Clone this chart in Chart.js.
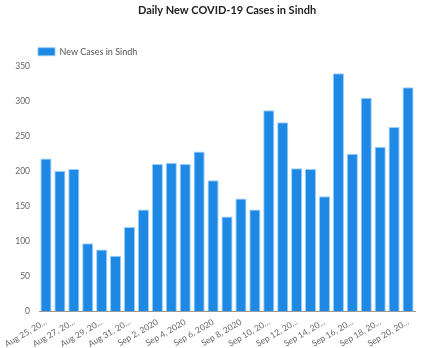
<!DOCTYPE html>
<html>
<head>
<meta charset="utf-8">
<script src="https://cdn.jsdelivr.net/npm/chart.js@4"></script>
<style>
    html, body { margin: 0; padding: 0; background: #fff; }
    #wrap { width: 434px; height: 348px; }
</style>
</head>
<body>
<div id="wrap"><canvas id="sindhChart"></canvas></div>
<script>
// Dates on the x axis (every day, Aug 25 - Sep 20, 2020)
const dates = [
    'Aug 25, 2020', 'Aug 26, 2020', 'Aug 27, 2020', 'Aug 28, 2020', 'Aug 29, 2020',
    'Aug 30, 2020', 'Aug 31, 2020', 'Sep 1, 2020', 'Sep 2, 2020', 'Sep 3, 2020',
    'Sep 4, 2020', 'Sep 5, 2020', 'Sep 6, 2020', 'Sep 7, 2020', 'Sep 8, 2020',
    'Sep 9, 2020', 'Sep 10, 2020', 'Sep 11, 2020', 'Sep 12, 2020', 'Sep 13, 2020',
    'Sep 14, 2020', 'Sep 15, 2020', 'Sep 16, 2020', 'Sep 17, 2020', 'Sep 18, 2020',
    'Sep 19, 2020', 'Sep 20, 2020'
];

// New cases per day
const newCases = [
    218, 200, 203, 97, 88, 79, 120, 145, 210, 212,
    210, 228, 187, 135, 161, 145, 287, 270, 204, 203,
    164, 340, 225, 305, 235, 263, 320
];

const yTicks = [0, 50, 100, 150, 200, 250, 300, 350];

const FONT = 'Lato, "Noto Sans", sans-serif';

// shorten long date labels like the original
function shortLabel(text) {
    return text.length > 11 ? text.slice(0, 10) + '...' : text;
}

// title and legend line up with the plot area, not the canvas edge
const alignToPlot = {
    id: 'alignToPlot',
    afterLayout(chart) {
        const left = chart.chartArea.left;
        if (chart.titleBlock) chart.titleBlock.left = left;
        if (chart.legend) chart.legend.left = left - 7;
    }
};

const ctx = document.getElementById('sindhChart');

new Chart(ctx, {
    type: 'bar',
    data: {
        labels: dates,
        datasets: [{
            label: 'New Cases in Sindh',
            data: newCases,
            backgroundColor: '#1E88E5',
            borderColor: 'rgba(144, 202, 249, 0.9)',
            borderWidth: 1,
            barPercentage: 0.8,
            categoryPercentage: 1
        }]
    },
    options: {
        responsive: true,
        maintainAspectRatio: false,
        animation: false,
        layout: {
            padding: { top: 4, right: 19, left: 0, bottom: 0 }
        },
        plugins: {
            title: {
                display: true,
                text: 'Daily New COVID-19 Cases in Sindh',
                color: '#222',
                font: { family: FONT, size: 11, weight: 'bold' },
                padding: { top: 0, bottom: 24 }
            },
            legend: {
                display: true,
                position: 'top',
                align: 'start',
                labels: {
                    font: { family: FONT, size: 9 },
                    color: '#555',
                    boxWidth: 17,
                    boxHeight: 8,
                    padding: 6
                }
            },
            tooltip: { enabled: false }
        },
        scales: {
            y: {
                min: 0,
                max: yTicks[yTicks.length - 1],
                afterBuildTicks: (scale) => {
                    scale.ticks = yTicks.map(v => ({ value: v }));
                },
                afterFit: (scale) => {
                    scale.width = 39;
                },
                ticks: {
                    font: { family: FONT, size: 8.5 },
                    color: '#666',
                    padding: 9
                },
                grid: { display: false, drawTicks: false },
                border: { display: false }
            },
            x: {
                afterFit: (scale) => {
                    scale.height = 37;
                    scale.paddingLeft = 0;
                    scale.paddingRight = 0;
                },
                ticks: {
                    font: { family: FONT, size: 8.5 },
                    color: '#666',
                    autoSkip: false,
                    minRotation: 30,
                    maxRotation: 30,
                    padding: 6,
                    callback: function(value, index) {
                        if (index % 2 !== 0) return '';
                        return shortLabel(this.getLabelForValue(value));
                    }
                },
                grid: { display: false, drawTicks: false },
                border: { display: true, color: '#999', width: 1 }
            }
        }
    },
    plugins: [alignToPlot]
});
</script>
</body>
</html>
